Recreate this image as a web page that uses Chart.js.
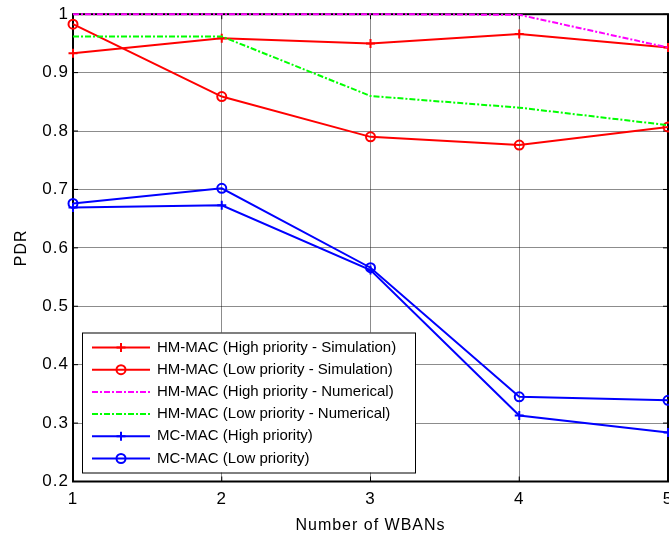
<!DOCTYPE html>
<html>
<head>
<meta charset="utf-8">
<script src="https://cdn.jsdelivr.net/npm/chart.js@4.4.1/dist/chart.umd.min.js"></script>
<style>
html, body { margin: 0; padding: 0; overflow: hidden; background: #fff; }
#wrap { width: 700px; height: 539px; }
</style>
</head>
<body>
<div id="wrap"><canvas id="pdrChart" width="700" height="539"></canvas></div>
<script>
// Data
const wbans = ['1', '2', '3', '4', '5'];
const yTicks = [0.2, 0.3, 0.4, 0.5, 0.6, 0.7, 0.8, 0.9, 1];

const hmHighSim = [0.933, 0.959, 0.950, 0.966, 0.943];
const hmLowSim  = [0.983, 0.859, 0.790, 0.776, 0.807];
const hmHighNum = [1.000, 1.000, 1.000, 0.999, 0.943];
const hmLowNum  = [0.962, 0.962, 0.860, 0.840, 0.810];
const mcHigh    = [0.669, 0.673, 0.562, 0.313, 0.284];
const mcLow     = [0.676, 0.702, 0.566, 0.345, 0.339];

const seriesNames = [
    'HM-MAC (High priority - Simulation)',
    'HM-MAC (Low priority - Simulation)',
    'HM-MAC (High priority - Numerical)',
    'HM-MAC (Low priority - Numerical)',
    'MC-MAC (High priority)',
    'MC-MAC (Low priority)'
];

const FONT = "'Liberation Sans', Arial, sans-serif";
const dashDot = [6, 2, 2, 2];

function makeSet(i, data, color, marker, dash) {
    return {
        label: seriesNames[i],
        data: data,
        borderColor: color,
        backgroundColor: 'transparent',
        borderWidth: 2,
        borderDash: dash || [],
        pointStyle: marker || 'circle',
        pointRadius: marker ? 4.5 : 0,
        pointBorderWidth: 2,
        pointBorderColor: color,
        pointBackgroundColor: 'transparent',
        tension: 0,
        clip: false,
        order: 6 - i
    };
}

// the axis text in the original export is stretched, a bit of letter spacing mimics that
const wideText = {
    id: 'wideText',
    beforeDraw(chart) {
        chart.ctx.letterSpacing = '1px';
    }
};

// Axes frame with inner tick marks (drawn under the lines)
const framePlugin = {
    id: 'frame',
    beforeDatasetsDraw(chart) {
        const ctx = chart.ctx;
        const a = chart.chartArea;
        const xs = chart.scales.x;
        const ys = chart.scales.y;
        ctx.save();
        ctx.strokeStyle = '#000';
        ctx.lineWidth = 1;
        ctx.beginPath();
        wbans.forEach((v, i) => {
            const px = xs.getPixelForValue(i);
            ctx.moveTo(px, a.bottom); ctx.lineTo(px, a.bottom - 5);
            ctx.moveTo(px, a.top); ctx.lineTo(px, a.top + 5);
        });
        yTicks.forEach(v => {
            const py = ys.getPixelForValue(v);
            ctx.moveTo(a.left, py); ctx.lineTo(a.left + 5, py);
            ctx.moveTo(a.right, py); ctx.lineTo(a.right - 5, py);
        });
        ctx.stroke();
        ctx.lineWidth = 2;
        ctx.strokeRect(a.left, a.top, a.right - a.left, a.bottom - a.top);
        ctx.restore();
    }
};

// Boxed legend inside the plot, lower left
const boxLegend = {
    id: 'boxLegend',
    afterDraw(chart) {
        const ctx = chart.ctx;
        const box = { x: 82, y: 332.5, w: 333, h: 140 };
        ctx.save();
        ctx.letterSpacing = '0px';
        ctx.fillStyle = '#fff';
        ctx.fillRect(box.x, box.y, box.w, box.h);
        ctx.strokeStyle = '#000';
        ctx.lineWidth = 1;
        ctx.strokeRect(box.x + 0.5, box.y + 0.5, box.w, box.h);

        chart.data.datasets.forEach((ds, i) => {
            const y = 347.5 + i * 22.2;
            const x0 = 92, x1 = 150, xm = (x0 + x1) / 2;
            ctx.strokeStyle = ds.borderColor;
            ctx.lineWidth = 2;
            ctx.setLineDash(ds.borderDash);
            ctx.beginPath();
            ctx.moveTo(x0, y);
            ctx.lineTo(x1, y);
            ctx.stroke();
            ctx.setLineDash([]);
            if (ds.pointRadius > 0) {
                const r = ds.pointRadius;
                ctx.beginPath();
                if (ds.pointStyle === 'cross') {
                    ctx.moveTo(xm - r, y); ctx.lineTo(xm + r, y);
                    ctx.moveTo(xm, y - r); ctx.lineTo(xm, y + r);
                } else {
                    ctx.arc(xm, y, r, 0, Math.PI * 2);
                }
                ctx.stroke();
            }
            ctx.fillStyle = '#000';
            ctx.font = '15px ' + FONT;
            ctx.textBaseline = 'middle';
            ctx.textAlign = 'left';
            ctx.fillText(ds.label, 157, y);
        });
        ctx.restore();
    }
};

const gridColor = 'rgba(0, 0, 0, 0.45)';

new Chart(document.getElementById('pdrChart'), {
    type: 'line',
    data: {
        labels: wbans,
        datasets: [
            makeSet(0, hmHighSim, '#ff0000', 'cross'),
            makeSet(1, hmLowSim, '#ff0000', 'circle'),
            makeSet(2, hmHighNum, '#ff00ff', null, dashDot),
            makeSet(3, hmLowNum, '#00ff00', null, dashDot),
            makeSet(4, mcHigh, '#0000ff', 'cross'),
            makeSet(5, mcLow, '#0000ff', 'circle')
        ]
    },
    options: {
        responsive: false,
        devicePixelRatio: 1,
        animation: false,
        layout: { padding: { top: 13.5, right: 32, left: 0, bottom: 0 } },
        plugins: {
            legend: { display: false },
            tooltip: { enabled: false }
        },
        scales: {
            x: {
                type: 'category',
                offset: false,
                afterFit: s => { s.height = 57.5; },
                grid: { color: gridColor, lineWidth: 1, drawTicks: false },
                border: { display: false },
                ticks: {
                    color: '#000',
                    font: { family: FONT, size: 17 },
                    padding: 8,
                    maxRotation: 0,
                    autoSkip: false
                },
                title: {
                    display: true,
                    text: 'Number of WBANs',
                    color: '#000',
                    font: { family: FONT, size: 16 },
                    padding: { top: 0, bottom: 4 }
                }
            },
            y: {
                min: 0.2,
                max: 1,
                afterFit: s => { s.width = 73; },
                afterBuildTicks: s => { s.ticks = yTicks.map(v => ({ value: v })); },
                grid: { color: gridColor, lineWidth: 1, drawTicks: false },
                border: { display: false },
                ticks: {
                    color: '#000',
                    font: { family: FONT, size: 17 },
                    padding: 4,
                    callback: v => String(v)
                },
                title: {
                    display: true,
                    text: 'PDR',
                    color: '#000',
                    font: { family: FONT, size: 16 },
                    padding: { top: 12, bottom: 0 }
                }
            }
        }
    },
    plugins: [wideText, framePlugin, boxLegend]
});
</script>
</body>
</html>
